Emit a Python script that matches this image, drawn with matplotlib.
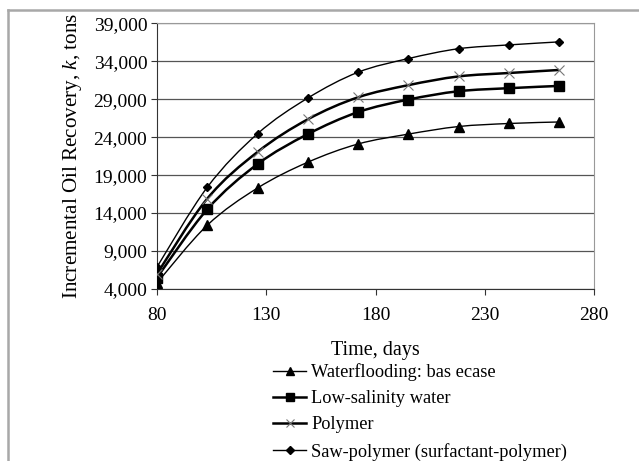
import matplotlib
matplotlib.use("Agg")
from matplotlib import pyplot as plt
from matplotlib.path import Path
from matplotlib.patches import PathPatch
from matplotlib.lines import Line2D
from matplotlib.ticker import FuncFormatter
import numpy as np

days = [80, 103, 126, 149, 172, 195, 218, 241, 264]
waterflooding = [4800, 12400, 17300, 20700, 23100, 24400, 25400, 25800, 26000]
low_salinity = [5500, 14500, 20450, 24400, 27300, 28950, 30050, 30450, 30750]
polymer = [6000, 15900, 22050, 26350, 29250, 30850, 32000, 32450, 32850]
saw_polymer = [6900, 17400, 24450, 29150, 32550, 34350, 35650, 36150, 36550]

labels = ["Waterflooding: bas ecase", "Low-salinity water", "Polymer",
          "Saw-polymer (surfactant-polymer)"]

plt.rcParams['font.family'] = ['Liberation Serif', 'DejaVu Serif']
plt.rcParams['mathtext.fontset'] = 'custom'
plt.rcParams['mathtext.rm'] = 'Liberation Serif'
plt.rcParams['mathtext.it'] = 'Liberation Serif:italic'


def smooth_path(x, y, t=1 / 6):
    # Excel-like smoothed line: Catmull-Rom as cubic Bezier segments
    x = np.asarray(x, float)
    y = np.asarray(y, float)
    verts = [(x[0], y[0])]
    codes = [Path.MOVETO]
    n = len(x)
    for i in range(n - 1):
        p0 = i - 1 if i > 0 else i
        p3 = i + 2 if i + 2 < n else i + 1
        c1 = (x[i] + (x[i + 1] - x[p0]) * t, y[i] + (y[i + 1] - y[p0]) * t)
        c2 = (x[i + 1] - (x[p3] - x[i]) * t, y[i + 1] - (y[p3] - y[i]) * t)
        verts += [c1, c2, (x[i + 1], y[i + 1])]
        codes += [Path.CURVE4] * 3
    return Path(verts, codes)


fig = plt.figure(figsize=(6.39, 4.61), dpi=100)
ax = fig.add_axes([0.2457, 0.3731, 0.684, 0.5764])

styles = [
    dict(marker='^', ms=6.5, lw=1.0, mfc='black', mec='black', color='black'),
    dict(marker='s', ms=6.5, lw=1.8, mfc='black', mec='black', color='black'),
    dict(marker='x', ms=7, lw=1.8, mfc='none', mec='#777777', mew=0.8, color='black'),
    dict(marker='D', ms=4.5, lw=1.0, mfc='black', mec='black', color='black'),
]

handles = []
for y, st, lab in zip([waterflooding, low_salinity, polymer, saw_polymer], styles, labels):
    ax.add_patch(PathPatch(smooth_path(days, y), facecolor='none',
                           edgecolor=st['color'], lw=st['lw'], zorder=3))
    ax.plot(days, y, linestyle='none', marker=st['marker'], ms=st['ms'],
            mfc=st['mfc'], mec=st['mec'], mew=st.get('mew', 1.0), zorder=4)
    handles.append(Line2D([], [], color=st['color'], lw=st['lw'], marker=st['marker'],
                          ms=st['ms'] * 0.85, mfc=st['mfc'], mec=st['mec'],
                          mew=st.get('mew', 1.0)))

ax.set_xlim(80, 280)
ax.set_ylim(4000, 39000)
ax.set_xticks([80, 130, 180, 230, 280])
ax.set_yticks(range(4000, 39001, 5000))
ax.yaxis.set_major_formatter(FuncFormatter(lambda v, p: f"{int(v):,}"))
ax.grid(axis='y', color='#555555', lw=0.9)
ax.set_axisbelow(True)
ax.tick_params(axis='both', labelsize=14, direction='out', length=4, color='#333333')
ax.tick_params(axis='x', pad=9)
ax.tick_params(axis='y', pad=3)
for side in ['top', 'right']:
    ax.spines[side].set_color('#999999')
for side in ['left', 'bottom']:
    ax.spines[side].set_color('#333333')

ax.set_xlabel("Time, days", fontsize=14.5, labelpad=12)
ax.set_ylabel("Incremental Oil Recovery, $\\it{k}$, tons", fontsize=15.2, labelpad=7)

fig.legend(handles, labels, loc='upper left', bbox_to_anchor=(0.428, 0.212),
           frameon=False, fontsize=13.2, handlelength=1.8, handletextpad=0.25,
           labelspacing=0.5, borderaxespad=0, borderpad=0)

# outer frame (top and left)
fig.add_artist(Line2D([8 / 639, 1], [1 - 10 / 461] * 2, color='#a8a8a8', lw=1.8,
                      transform=fig.transFigure))
fig.add_artist(Line2D([8 / 639] * 2, [0, 1 - 10 / 461], color='#a8a8a8', lw=1.8,
                      transform=fig.transFigure))

fig.savefig("out.png", dpi=100)
